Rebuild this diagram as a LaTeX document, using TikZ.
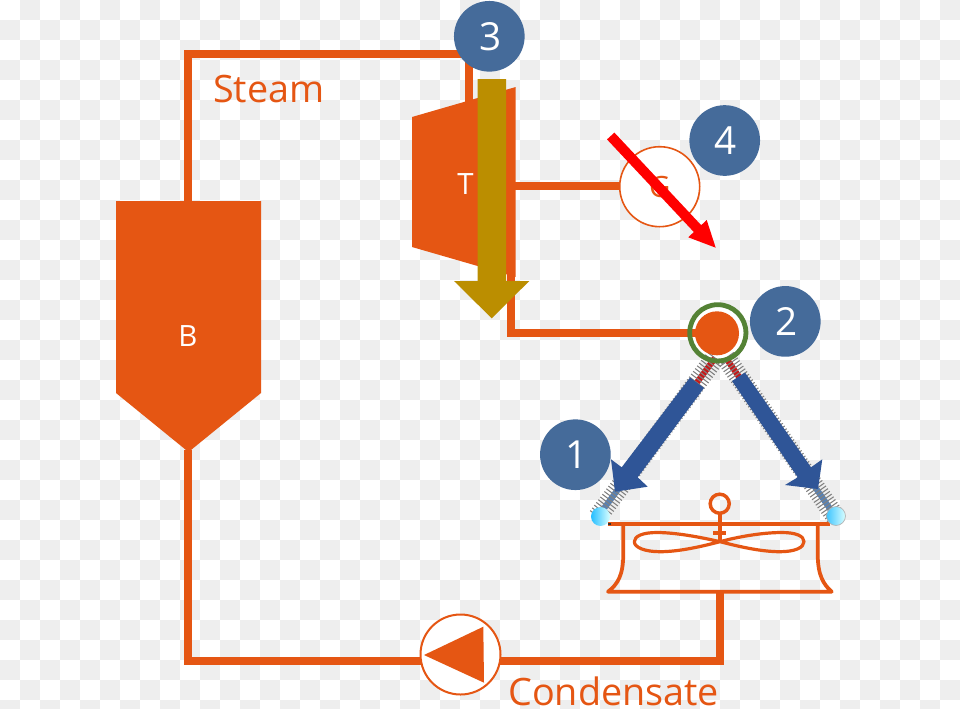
\documentclass[tikz,border=0pt]{standalone}
\usepackage{fontspec}
\setmainfont{Open Sans}
\usetikzlibrary{calc}
\definecolor{rust}{HTML}{E55613}
\definecolor{badge}{HTML}{456B9A}
\definecolor{gold}{HTML}{BB8E00}
\definecolor{shaftblue}{HTML}{2F5597}
\definecolor{ringgreen}{HTML}{548235}
\definecolor{tile}{HTML}{EEEEEE}
\tikzset{
  x=0.75pt,y=-0.75pt,
  pipe/.style={draw=rust,line width=6pt,miter limit=10},
  fanline/.style={draw=rust,line width=2.8pt,line join=round},
  badgenode/.style={circle,fill=badge,text=white,minimum size=53pt,inner sep=0pt,font=\fontsize{29}{29}\selectfont},
  machine/.style={circle,draw=rust,fill=white,line width=1.5pt,minimum size=60pt,inner sep=0pt},
  caption/.style={text=rust,anchor=base west,inner sep=0pt,font=\fontsize{28.3}{28.3}\selectfont},
  mark label/.style={inner sep=0pt,font=\fontsize{22}{22}\selectfont},
  coil/.style={draw=black!50,line width=0.8pt},
}
\begin{document}
\begin{tikzpicture}
\useasboundingbox (0,0) rectangle (960,708);
% tiled backdrop
\begin{scope}
\clip (0,0) rectangle (960,708);
\fill[white] (0,0) rectangle (960,708);
\foreach \i in {0,...,47}{\foreach \j in {0,...,35}{
  \pgfmathtruncatemacro\k{mod(\i+\j,2)}
  \ifnum\k=1 \fill[tile] (20*\i,20*\j) rectangle (20*\i+20,20*\j+20);\fi
}}
\end{scope}

% anchor points of the water circuit
\coordinate (boilerTop) at (188,203);
\coordinate (boilerFoot) at (188,450);
\coordinate (cornerTL) at (188,54);
\coordinate (cornerTR) at (469,54);
\coordinate (turbineIn) at (469,105);
\coordinate (turbineOut) at (511,270);
\coordinate (turbineShaft) at (512,186);
\coordinate (cornerEx) at (511,333);
\coordinate (cornerBL) at (188,661);
\coordinate (cornerBR) at (720,661);
\coordinate (fanFoot) at (720,592);

% condenser backing
\fill[white] (717.8,332.8) circle[radius=20.5pt];

% spring cores
\coordinate (coilLa) at (715,358);
\coordinate (coilLb) at (598,516.5);
\coordinate (coilRa) at (726,358);
\coordinate (coilRb) at (835,516);
\draw[red!75!black!90,line width=4.5pt] (coilLa) -- ($(coilLa)!0.16!(coilLb)$);
\draw[red!75!black!90,line width=4.5pt] (coilRa) -- ($(coilRa)!0.16!(coilRb)$);
\draw[cyan!55!blue!60!gray,line width=4.5pt] ($(coilLa)!0.80!(coilLb)$) -- (coilLb);
\draw[cyan!55!blue!60!gray,line width=4.5pt] ($(coilRa)!0.80!(coilRb)$) -- (coilRb);
% spring windings
\foreach \n in {0,...,58}{
  \pgfmathsetmacro\t{\n/58}
  \draw[coil] ($(coilLa)!\t!(coilLb)+(-7.8,-5.9)$) -- ($(coilLa)!\t!(coilLb)+(7.8,5.9)$);
  \draw[coil] ($(coilRa)!\t!(coilRb)+(8,-5.6)$) -- ($(coilRa)!\t!(coilRb)+(-8,5.6)$);
}

% pipework
\draw[pipe] (boilerTop) -- (cornerTL) -- (cornerTR) -- (turbineIn);
\draw[pipe] (boilerFoot) -- (cornerBL) -- (cornerBR) -- (fanFoot);
\draw[pipe] (turbineOut) -- (cornerEx) -- (717,333);
\draw[pipe] (turbineShaft) -- (625,186);

% boiler and turbine bodies
\fill[rust] (116,201) -- (261,201) -- (261,393) -- (188.5,452) -- (116,393) -- cycle;
\node[mark label,text=white] (boilerLabel) at (188,336) {B};
\fill[rust] (412,117) -- (515.7,87) -- (515.7,277) -- (412,247) -- cycle;
\node[mark label,text=white] (turbineLabel) at (465.5,184) {T};

% generator and pump
\node[machine,line width=1.2pt,text=rust,font=\fontsize{22}{22}\selectfont] (gen) at (659.7,186.7) {G};
\node[machine] (pump) at (460.5,654.5) {};
\fill[rust] (424,655) -- (483.3,626.7) -- (484,682.7) -- cycle;

% condenser
\fill[rust] (717,333.3) circle[radius=16.5pt];
\node[circle,draw=ringgreen,line width=3.6pt,minimum size=42.2pt,inner sep=0pt] (cond) at (717.8,332.8) {};

% cooling fan
\draw[fanline,line width=3.2pt] (608,524) -- (830,524);
\draw[fanline] (623.3,524) -- (623.3,555) .. controls (623,575) and (618,584) .. (608,591.7)
  -- (831.7,591.7) .. controls (823,584) and (818,575) .. (817.7,555) -- (817.7,524);
\draw[rust,line width=2.4pt,line join=round] (720,541.7)
  .. controls (700,537) and (675,532.5) .. (657,532.5)
  .. controls (643,532.5) and (634.3,536) .. (634.3,541.7)
  .. controls (634.3,547.5) and (645,551.7) .. (660,551.7)
  .. controls (680,551.7) and (703,546) .. (720,541.7)
  .. controls (737,537) and (762,532.5) .. (781.7,532.5)
  .. controls (796,532.5) and (804,536) .. (804,541.7)
  .. controls (804,547.5) and (795,551.7) .. (780,551.7)
  .. controls (760,551.7) and (737,546) .. (720,541.7) -- cycle;
\draw[fanline] (720,513.3) -- (720,541.7);
\draw[fanline] (713.3,533.3) -- (726,533.3);
\node[circle,draw=rust,line width=2.6pt,minimum size=14.3pt,inner sep=0pt] (fanHub) at (719.7,503.7) {};
\fill[black!80] (608,523) rectangle (611,525);

% spring end beads
\shade[left color=cyan!70!blue!85,right color=cyan!15!white] (600.5,516.5) circle[radius=7.1pt];
\shade[left color=cyan!70!blue!75,right color=cyan!15!white,draw=black!30,line width=0.5pt] (836,516) circle[radius=7.1pt];

% heat-flow arrows
\fill[shaftblue] (690,377.5) -- (621.7,467.3) -- (611,459.3) -- (615,491.7) -- (647.7,486.7) -- (637.7,477.3) -- (704,388) -- cycle;
\fill[shaftblue] (745,372.5) -- (811,467.3) -- (822.3,459.3) -- (818,489) -- (785,485) -- (797.7,477.3) -- (732,381) -- cycle;
\fill[gold] (477.7,79) -- (506,79) -- (506,281) -- (529.3,281) -- (491.7,318.3) -- (454,281) -- (477.7,281) -- cycle;
\fill[red] (614.4,132.6) -- (607,139.4) -- (693.8,232) -- (688.3,237.3) -- (715.7,247.7) -- (706.7,220) -- (701.2,225.2) -- cycle;

% captions
\node[caption] (steam) at (213,102) {Steam};
\node[caption] (condensate) at (508,705.5) {Condensate};

% numbered badges
\node[badgenode] (b1) at (575.4,454.7) {\hspace{2pt}1};
\node[badgenode] (b2) at (785.3,321.4) {\hspace{2pt}2};
\node[badgenode] (b3) at (489.3,36.3) {\hspace{2pt}3};
\node[badgenode] (b4) at (724.7,140.5) {\hspace{2pt}4};
\end{tikzpicture}
\end{document}
